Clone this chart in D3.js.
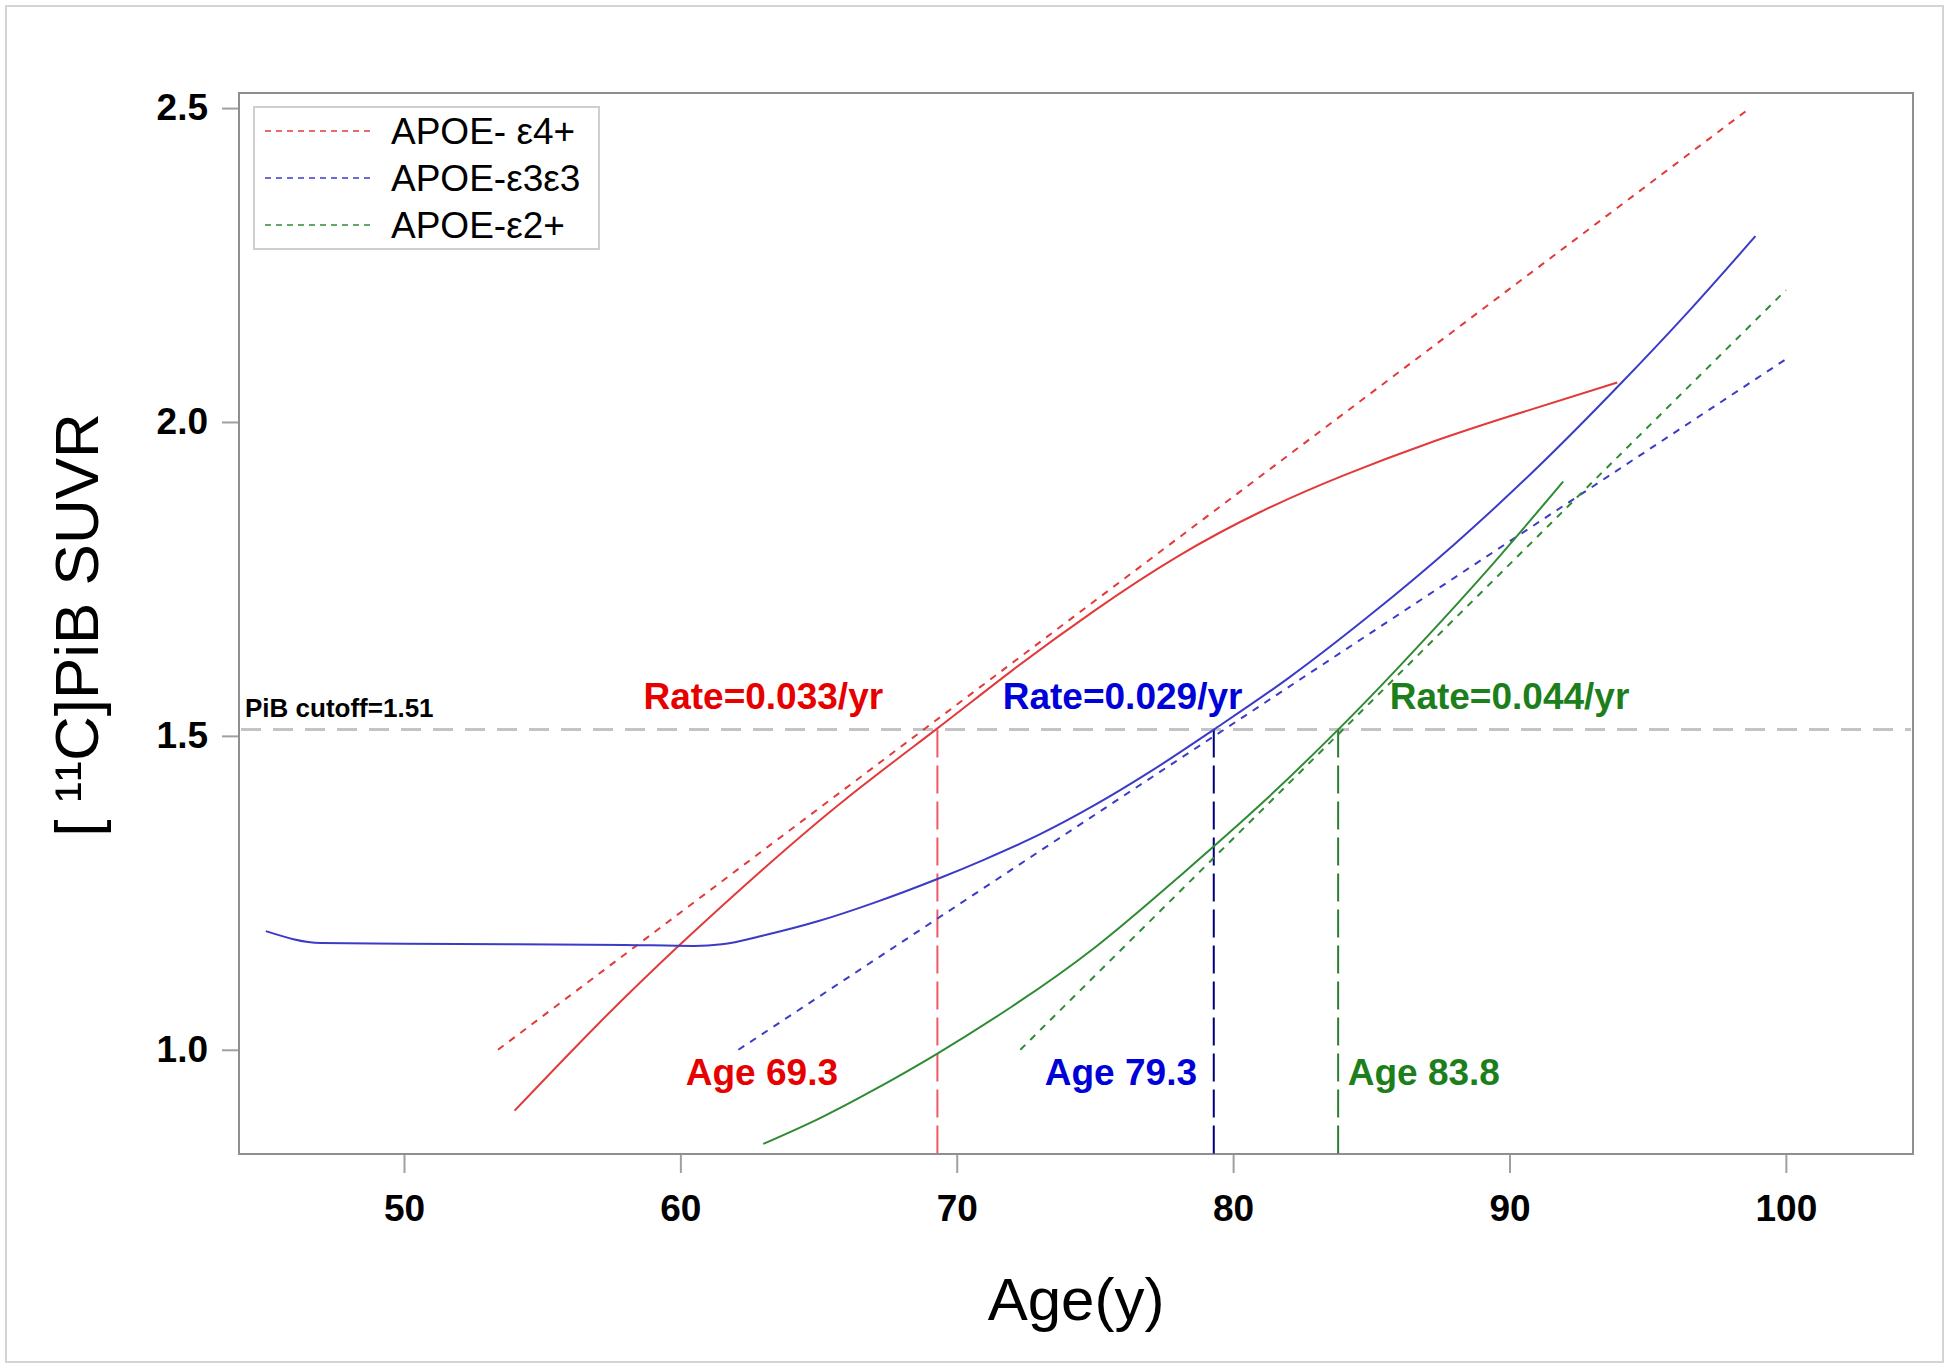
<!DOCTYPE html>
<html>
<head>
<meta charset="utf-8">
<script src="https://cdn.jsdelivr.net/npm/d3@7"></script>
<style>
  html, body { margin: 0; padding: 0; background: #fff; }
  svg { display: block; }
  text { font-family: "Liberation Sans", Arial, sans-serif; }
</style>
</head>
<body>
<svg id="chart" width="1950" height="1368"></svg>
<script>
// ---------- data ----------
const groups = ["APOE- ε4+", "APOE-ε3ε3", "APOE-ε2+"];

// fitted curves [age, SUVR]
const curveE4 = [[54,0.903],[57,1.040],[60,1.168],[63,1.288],[66,1.400],[69.3,1.512],[72,1.604],[75,1.700],[78,1.786],[81,1.857],[84,1.915],[87,1.965],[90,2.009],[93.9,2.063]];
const curveE3 = [[45,1.189],[47,1.170],[50,1.169],[54,1.168],[58,1.167],[60.5,1.1655],[61.5,1.168],[63,1.182],[65,1.205],[67,1.234],[69.3,1.272],[71,1.303],[73,1.343],[75,1.390],[77,1.443],[79.3,1.51],[82,1.592],[85,1.694],[88,1.805],[91,1.927],[94,2.060],[96.5,2.177],[98.9,2.296]];
const curveE2 = [[63.0,0.850],[65,0.890],[67,0.936],[69.3,0.994],[72,1.069],[75,1.163],[78,1.274],[81,1.391],[83.8,1.51],[86,1.610],[89,1.754],[91.94,1.905]];

// tangent (rate) lines [age, SUVR]
const tangentE4 = [[53.4,1.0],[98.7,2.5]];
const tangentE3 = [[62.1,1.0],[100,2.10]];
const tangentE2 = [[72.3,1.0],[100,2.21]];

const cutoff = 1.51;
const crossAges = [69.3, 79.3, 83.8];
const rates = ["Rate=0.033/yr", "Rate=0.029/yr", "Rate=0.044/yr"];
const rateLabelAges = [63.0, 76.0, 90.0];
const ageLabels = ["Age 69.3", "Age 79.3", "Age 83.8"];
const ageLabelAges = [62.95, 75.94, 86.9];
const rateLabelY = 1.543;
const ageLabelY = 0.944;

const xTicks = [50, 60, 70, 80, 90, 100];
const yTicks = [1.0, 1.5, 2.0, 2.5];

// ---------- styles ----------
const lineColors = ["#e23a3a", "#3b3bc8", "#2e8b34"];
const textColors = ["#e60000", "#0000d8", "#1c7f1c"];
const vlineColors = ["#ee5a64", "#000080", "#2e7d32"];

// ---------- drawing ----------
const svg = d3.select("#chart");
const L = 239, R = 1913, T = 93, B = 1154;
const x = d3.scaleLinear().domain([44.03, 104.6]).range([L, R]);
const y = d3.scaleLinear().domain([0.834, 2.524]).range([B, T]);

// outer border
svg.append("rect").attr("x", 6).attr("y", 6).attr("width", 1937).attr("height", 1356)
  .attr("fill", "none").attr("stroke", "#d4d4d4").attr("stroke-width", 2);

// axes
const xAxis = svg.append("g").attr("transform", `translate(0,${B})`)
  .call(d3.axisBottom(x).tickValues(xTicks).tickSize(19).tickPadding(22).tickFormat(d3.format("d")));
const yAxis = svg.append("g").attr("transform", `translate(${L},0)`)
  .call(d3.axisLeft(y).tickValues(yTicks).tickSize(17).tickPadding(14).tickFormat(d3.format(".1f")));
[xAxis, yAxis].forEach(g => {
  g.select(".domain").remove();
  g.selectAll(".tick line").attr("stroke", "#a0a0a0").attr("stroke-width", 2);
  g.selectAll(".tick text").attr("fill", "#000").attr("font-size", 37).attr("font-weight", "bold")
    .style("font-family", '"Liberation Sans", Arial, sans-serif');
});

// frame
svg.append("rect").attr("x", L).attr("y", T).attr("width", R - L).attr("height", B - T)
  .attr("fill", "none").attr("stroke", "#8f8f8f").attr("stroke-width", 2);

// cutoff line
svg.append("line").attr("x1", L + 2).attr("x2", R - 2).attr("y1", y(cutoff)).attr("y2", y(cutoff))
  .attr("stroke", "#c4c4c4").attr("stroke-width", 3).attr("stroke-dasharray", "20,12");
svg.append("text").attr("x", 245).attr("y", 717).attr("font-size", 26).attr("font-weight", "bold")
  .attr("fill", "#000").text("PiB cutoff=" + cutoff);

// vertical drop lines
crossAges.forEach((a, i) => {
  svg.append("line").attr("x1", x(a)).attr("x2", x(a)).attr("y1", y(cutoff)).attr("y2", B)
    .attr("stroke", vlineColors[i]).attr("stroke-width", 2).attr("stroke-dasharray", "28,8");
});

const smooth = d3.line().x(d => x(d[0])).y(d => y(d[1])).curve(d3.curveNatural);
const mono = d3.line().x(d => x(d[0])).y(d => y(d[1])).curve(d3.curveMonotoneX);
const straight = d3.line().x(d => x(d[0])).y(d => y(d[1]));

// tangent lines
[tangentE4, tangentE3, tangentE2].forEach((t, i) => {
  svg.append("path").attr("d", straight(t)).attr("fill", "none")
    .attr("stroke", lineColors[i]).attr("stroke-width", 2).attr("stroke-dasharray", "7,7");
});

// curves
svg.append("path").attr("d", smooth(curveE4)).attr("fill", "none").attr("stroke", lineColors[0]).attr("stroke-width", 2);
svg.append("path").attr("d", mono(curveE3)).attr("fill", "none").attr("stroke", lineColors[1]).attr("stroke-width", 2);
svg.append("path").attr("d", smooth(curveE2)).attr("fill", "none").attr("stroke", lineColors[2]).attr("stroke-width", 2);

// annotations
rates.forEach((r, i) => {
  svg.append("text").attr("x", x(rateLabelAges[i])).attr("y", y(rateLabelY)).attr("text-anchor", "middle")
    .attr("font-size", 37).attr("font-weight", "bold").attr("fill", textColors[i]).text(r);
});
ageLabels.forEach((t, i) => {
  svg.append("text").attr("x", x(ageLabelAges[i])).attr("y", y(ageLabelY)).attr("text-anchor", "middle")
    .attr("font-size", 37).attr("font-weight", "bold").attr("fill", textColors[i]).text(t);
});

// legend
const lg = svg.append("g");
lg.append("rect").attr("x", 254).attr("y", 107).attr("width", 345).attr("height", 142)
  .attr("fill", "#fff").attr("stroke", "#cfcfcf").attr("stroke-width", 2);
groups.forEach((g, i) => {
  const cy = 131 + i * 47;
  lg.append("line").attr("x1", 265).attr("x2", 370).attr("y1", cy).attr("y2", cy)
    .attr("stroke", lineColors[i]).attr("stroke-width", 1.5).attr("stroke-dasharray", "6,5");
  lg.append("text").attr("x", 391).attr("y", cy + 13).attr("font-size", 37).attr("fill", "#000").text(g);
});

// axis titles
svg.append("text").attr("x", (L + R) / 2).attr("y", 1320).attr("text-anchor", "middle")
  .attr("font-size", 60).attr("fill", "#000").text("Age(y)");
svg.append("text").attr("transform", "translate(98,625) rotate(-90)").attr("text-anchor", "middle")
  .attr("font-size", 62).attr("fill", "#000").text("[ ¹¹C]PiB SUVR");
</script>
</body>
</html>
